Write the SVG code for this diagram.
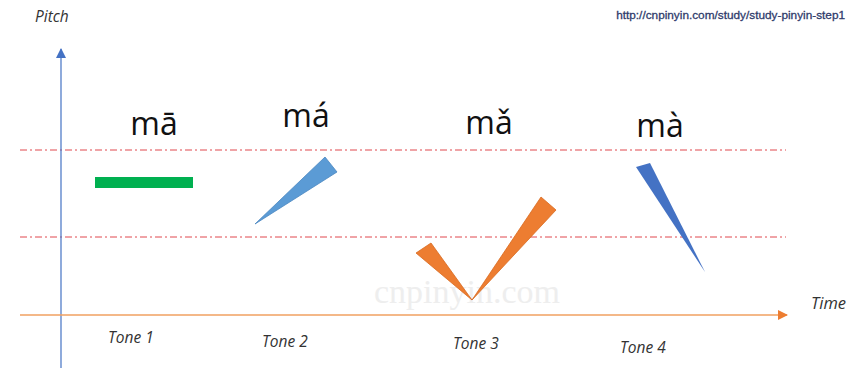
<svg xmlns="http://www.w3.org/2000/svg" width="863" height="368" viewBox="0 0 863 368">
<style>
.guide{stroke:#E0484F;stroke-width:1;stroke-dasharray:7 3 2 3;fill:none}
.py{font-family:"Open Sans","Liberation Sans",sans-serif;font-size:32px;fill:#111;text-anchor:middle}
.lab{font-family:"Open Sans","Liberation Sans",sans-serif;font-size:15.5px;font-style:italic;fill:#333}
</style>
<defs>
<marker id="arrB" markerWidth="10" markerHeight="10" refX="9" refY="5" orient="auto" markerUnits="userSpaceOnUse"><path d="M0,0 L10,5 L0,10 Z" fill="#4472C4"/></marker>
<marker id="arrO" markerWidth="10" markerHeight="10" refX="9" refY="5" orient="auto" markerUnits="userSpaceOnUse"><path d="M0,0 L10,5 L0,10 Z" fill="#ED7D31"/></marker>
</defs>
<rect width="863" height="368" fill="#fff"/>
<text x="467" y="303" font-family="Liberation Serif,serif" font-size="34" fill="#eeeeee" text-anchor="middle">cnpinyin.com</text>
<g id="guides">
<line class="guide" x1="20" y1="150" x2="786" y2="150"/>
<line class="guide" x1="20" y1="237" x2="786" y2="237"/>
</g>
<g id="connectors">
<line x1="61" y1="368" x2="61" y2="49" stroke="#4472C4" stroke-width="1.2" marker-end="url(#arrB)"/>
<line x1="20" y1="315" x2="787" y2="315" stroke="#F0A060" stroke-width="1.5" marker-end="url(#arrO)"/>
</g>
<g id="tone1">
<rect x="95" y="177" width="98" height="11" fill="#00B050"/>
<text class="py" x="154" y="135">mā</text>
<text class="lab" x="108" y="343">Tone 1</text>
</g>
<g id="tone2">
<polygon points="255,224 325,157 337,172" fill="#5B9BD5" stroke="#4A86C0" stroke-width="0.8"/>
<text class="py" x="306" y="127">má</text>
<text class="lab" x="262" y="347">Tone 2</text>
</g>
<g id="tone3">
<polygon points="416,253 431,243 472,300" fill="#ED7D31" stroke="#D86A20" stroke-width="0.8"/>
<polygon points="472,300 541,197 556,210" fill="#ED7D31" stroke="#D86A20" stroke-width="0.8"/>
<text class="py" x="489" y="134">mǎ</text>
<text class="lab" x="453" y="349">Tone 3</text>
</g>
<g id="tone4">
<polygon points="636,167 650,163 705,272" fill="#4472C4"/>
<text class="py" x="660" y="137">mà</text>
<text class="lab" x="620" y="353">Tone 4</text>
</g>
<g id="labels">
<text class="lab" x="35" y="22" font-size="15.5">Pitch</text>
<text class="lab" x="811" y="309" style="font-size:16.5px">Time</text>
<text x="845" y="19" font-family="Liberation Sans,sans-serif" font-size="11.8" fill="#2F3B6B" stroke="#2F3B6B" stroke-width="0.3" text-anchor="end">http://cnpinyin.com/study/study-pinyin-step1</text>
</g>
</svg>
